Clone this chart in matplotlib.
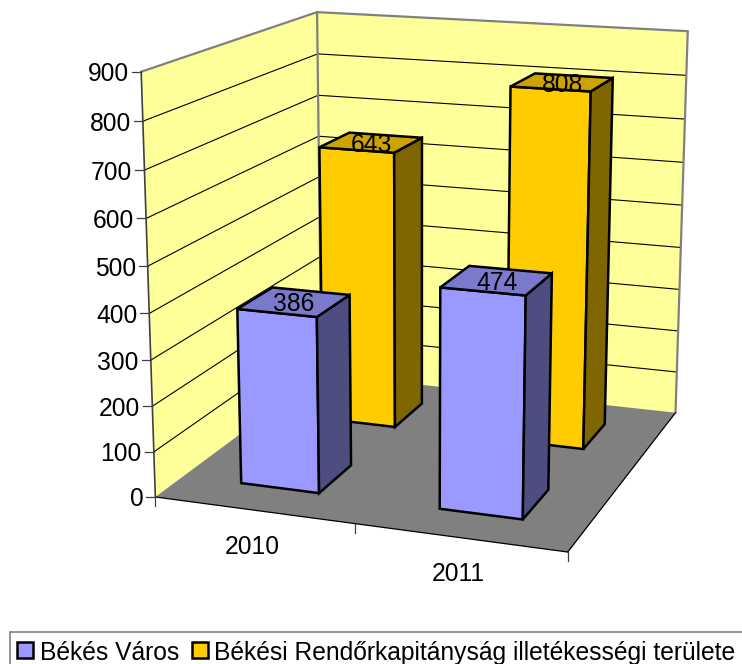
import numpy as np
import matplotlib
matplotlib.use('Agg')
import matplotlib.pyplot as plt
from matplotlib.patches import Polygon, Rectangle

plt.rcParams['font.family'] = ['Liberation Sans', 'DejaVu Sans']

categories = ['2010', '2011']
series_names = ['Békés Város', 'Békési Rendőrkapitányság illetékességi területe']
bekes_varos = [386, 474]
bekesi_rk = [643, 808]
yticks = [0, 100, 200, 300, 400, 500, 600, 700, 800, 900]
YMAX = 900
GAP = 1.5

# camera fit: spots in the 3d box (x, depth, height) -> where they land on the picture
box = [(0, 0, 0), (1, 0, 0), (1, 1, 0), (0, 1, 0), (0, 0, 1), (0, 1, 1), (1, 1, 1),
       (.15, .15, 0), (.35, .15, 0), (.35, .35, 0), (.65, .15, 0), (.85, .15, 0), (.85, .35, 0),
       (.35, .65, 0), (.35, .85, 0), (.85, .65, 0), (.85, .85, 0),
       (.15, .65, .714), (.35, .65, .714), (.35, .85, .714), (.15, .85, .714),
       (.65, .65, .898), (.85, .65, .898), (.85, .85, .898), (.65, .85, .898)]
pix = [(156, 496), (568, 554), (676, 412), (319, 380), (140, 72), (318, 12), (688, 31),
       (241, 482), (319, 493), (352, 464), (439, 509), (523, 521), (548, 491),
       (396, 425), (423, 401), (583, 448), (604, 423),
       (320, 147), (394, 153), (422, 137), (350, 132),
       (510, 87), (591, 93), (612, 78), (535, 73)]

A = []
b = []
for (X, Y, Z), (u, v) in zip(box, pix):
    A.append([X, Y, Z, 1, 0, 0, 0, 0, -u*X, -u*Y, -u*Z])
    b.append(u)
    A.append([0, 0, 0, 0, X, Y, Z, 1, -v*X, -v*Y, -v*Z])
    b.append(v)
sol = np.linalg.lstsq(np.array(A, float), np.array(b, float), rcond=None)[0]
P = np.append(sol, 1.0).reshape(3, 4)


def proj(x, y, val):
    p = P @ np.array([x, y, val/YMAX, 1.0])
    return p[0]/p[2], p[1]/p[2]


fig = plt.figure(figsize=(7.42, 6.64), dpi=100)
ax = fig.add_axes([0, 0, 1, 1])
ax.set_xlim(0, 742)
ax.set_ylim(664, 0)
ax.axis('off')

WALL = '#FFFF99'
FLOOR = '#808080'
EDGE = '#808080'
AXC = '#404040'
FS = 17.7


def face(pts, fc, ec='none', lw=0, z=1):
    ax.add_patch(Polygon([proj(*q) for q in pts], closed=True, fc=fc, ec=ec, lw=lw,
                         joinstyle='miter', zorder=z))


def seg(a, b, color='black', lw=0.8, z=2):
    pa, pb = proj(*a), proj(*b)
    ax.plot([pa[0], pb[0]], [pa[1], pb[1]], color=color, lw=lw, zorder=z,
            solid_capstyle='round')


# walls and floor
face([(0, 0, 0), (0, 1, 0), (0, 1, YMAX), (0, 0, YMAX)], WALL)
face([(0, 1, 0), (1, 1, 0), (1, 1, YMAX), (0, 1, YMAX)], WALL)
face([(0, 0, 0), (1, 0, 0), (1, 1, 0), (0, 1, 0)], FLOOR)

for t in yticks[1:-1]:
    seg((0, 0, t), (0, 1, t))
    seg((0, 1, t), (1, 1, t))

seg((0, 0, YMAX), (0, 1, YMAX), EDGE, 1.6, 3)
seg((0, 1, YMAX), (1, 1, YMAX), EDGE, 1.6, 3)
seg((0, 1, 0), (0, 1, YMAX), EDGE, 1.6, 3)
seg((1, 1, 0), (1, 1, YMAX), EDGE, 1.6, 3)
seg((0, 0, 0), (1, 0, 0), 'black', 0.9, 3)
seg((1, 0, 0), (1, 1, 0), 'black', 0.9, 3)
seg((0, 0, 0), (0, 0, YMAX), AXC, 1.2, 3)

# value axis
for t in yticks:
    u, v = proj(0, 0, t)
    ax.plot([u-9, u], [v, v], color=AXC, lw=0.9, zorder=3)
    ax.text(u-12, v, str(t), ha='right', va='center_baseline', fontsize=FS, color='black')

# category axis
for i in range(len(categories)+1):
    u, v = proj(i/len(categories), 0, 0)
    ax.plot([u, u], [v, v+9], color=AXC, lw=0.9, zorder=3)
for i, c in enumerate(categories):
    u, v = proj((i+0.5)/len(categories), 0, 0)
    ax.text(u-1, v+34, c, ha='center', va='center_baseline', fontsize=FS, color='black')


def bar3d(cat, ser, val, front, side, top, z):
    n = len(categories)
    m = len(series_names)
    w = 1/n/(1+GAP)
    d = 1/m/(1+GAP)
    x0 = (cat + GAP/(2*(1+GAP)))/n
    y0 = (ser + GAP/(2*(1+GAP)))/m
    x1, y1 = x0+w, y0+d
    lw = 1.8
    face([(x0, y0, 0), (x1, y0, 0), (x1, y0, val), (x0, y0, val)], front, 'black', lw, z)
    face([(x1, y0, 0), (x1, y1, 0), (x1, y1, val), (x1, y0, val)], side, 'black', lw, z)
    face([(x0, y0, val), (x1, y0, val), (x1, y1, val), (x0, y1, val)], top, 'black', lw, z)
    u, v = proj((x0+x1)/2, (y0+y1)/2, val)
    ax.text(u, v, str(val), ha='center', va='center_baseline', fontsize=FS, color='black', zorder=20)


for i, val in enumerate(bekesi_rk):
    bar3d(i, 1, val, '#FFCC00', '#806600', '#CCA300', 5+i)
for i, val in enumerate(bekes_varos):
    bar3d(i, 0, val, '#9999FF', '#4D4D80', '#7A7ACC', 8+i)

# legend, runs off the picture at the right and bottom
ax.add_patch(Rectangle((10, 632), 760, 60, fc='white', ec='#808080', lw=1.2, zorder=15))
for sx, tx, col, name in zip([17, 192], [40, 214], ['#9999FF', '#FFCC00'], series_names):
    ax.add_patch(Rectangle((sx, 642), 16, 16, fc=col, ec='black', lw=1.8, zorder=16))
    ax.text(tx, 650.5, name, ha='left', va='center_baseline', fontsize=FS, color='black', zorder=16)

fig.savefig('out.png', dpi=100)
